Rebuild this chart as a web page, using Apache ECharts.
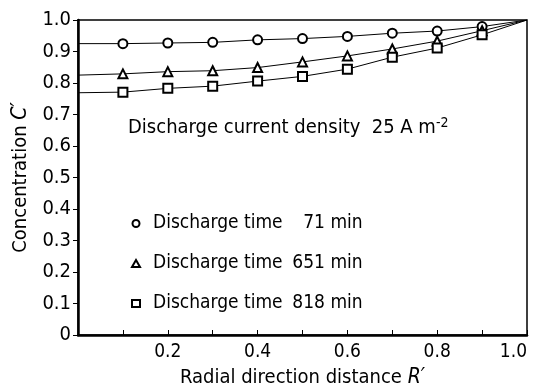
<!DOCTYPE html>
<html>
<head>
<meta charset="utf-8">
<script src="https://cdn.jsdelivr.net/npm/echarts@6/dist/echarts.min.js"></script>
<style>
  html, body { margin: 0; padding: 0; background: #fff; }
  #chart { width: 536px; height: 385px; }
</style>
</head>
<body>
<div id="chart"></div>
<script>
// radial distance R' and dimensionless concentration C'
const radius = [0, 0.1, 0.2, 0.3, 0.4, 0.5, 0.6, 0.7, 0.8, 0.9, 1.0];
const conc71 = [0.925, 0.925, 0.927, 0.929, 0.937, 0.941, 0.948, 0.958, 0.965, 0.979, 1.0];
const conc651 = [0.825, 0.829, 0.836, 0.839, 0.849, 0.867, 0.886, 0.908, 0.933, 0.966, 1.0];
const conc818 = [0.769, 0.771, 0.783, 0.790, 0.806, 0.821, 0.844, 0.882, 0.911, 0.953, 1.0];
const seriesNames = ['71 min', '651 min', '818 min'];
const seriesSymbols = ['emptyCircle', 'emptyTriangle', 'emptyRect'];

const FONT = '"DejaVu Sans Condensed", "DejaVu Sans", sans-serif';
const chart = echarts.init(document.getElementById('chart'));

// markers only on the inner points, not at R'=0 and R'=1
const markerSize = (val, params) =>
  (params.dataIndex === 0 || params.dataIndex === radius.length - 1) ? 0 : 9;

const makeSeries = (name, values, symbol) => ({
  name,
  type: 'line',
  data: radius.map((r, i) => [r, values[i]]),
  symbol,
  symbolSize: markerSize,
  showAllSymbol: true,
  lineStyle: { color: '#000', width: 1 },
  itemStyle: { color: '#000', borderColor: '#000', borderWidth: 1 },
  emphasis: { disabled: true },
});

chart.setOption({
  animation: false,
  textStyle: { fontFamily: FONT, color: '#000' },
  grid: {
    left: 78, right: 9, top: 20, bottom: 50,
    outerBoundsMode: 'none',
    containLabel: false,
    show: true, borderColor: '#000', borderWidth: 1.5,
  },
  legend: {
    orient: 'vertical',
    left: 126,
    top: 209,
    itemGap: 21,
    itemWidth: 8,
    itemHeight: 7,
    data: seriesNames.map((n, i) => ({ name: n, icon: seriesSymbols[i] })),
    lineStyle: { opacity: 0 },
    itemStyle: { borderWidth: 0.8 },
    formatter: (name) => '{a|Discharge time}{b|' + name + '}',
    textStyle: {
      fontFamily: FONT,
      color: '#000',
      rich: {
        a: { fontSize: 19, fontFamily: FONT, color: '#000', padding: [0, 0, 0, 8] },
        b: { fontSize: 19, fontFamily: FONT, color: '#000', width: 80, align: 'right' },
      },
    },
    selectedMode: false,
  },
  xAxis: {
    type: 'value',
    min: 0, max: 1, interval: 0.1,
    name: "Radial direction distance {i|R′}",
    nameLocation: 'middle',
    nameGap: 27,
    nameTextStyle: {
      fontSize: 20, fontFamily: FONT, color: '#000',
      rich: { i: { fontSize: 21, fontStyle: 'italic', fontFamily: FONT, color: '#000' } },
    },
    axisLine: { lineStyle: { color: '#000', width: 2.5 } },
    axisTick: { inside: true, length: 5, lineStyle: { color: '#000' } },
    splitLine: { show: false },
    axisLabel: {
      fontSize: 19, color: '#000', margin: 8,
      alignMaxLabel: 'right',
      formatter: (v) => {
        const t = Math.round(v * 10);
        return (t % 2 === 0 && t > 0) ? v.toFixed(1) : '';
      },
    },
  },
  yAxis: {
    type: 'value',
    min: 0, max: 1, interval: 0.1,
    name: 'Concentration {i|C′}',
    nameLocation: 'middle',
    nameGap: 46,
    nameTextStyle: {
      fontSize: 20, fontFamily: FONT, color: '#000',
      rich: { i: { fontSize: 21, fontStyle: 'italic', fontFamily: FONT, color: '#000' } },
    },
    axisLine: { show: true, lineStyle: { color: '#000', width: 2.5 } },
    axisTick: { show: true, length: 5, lineStyle: { color: '#000' } },
    splitLine: { show: false },
    axisLabel: {
      fontSize: 20, color: '#000', margin: 7,
      formatter: (v) => (v === 0 ? '0' : v.toFixed(1)),
    },
  },
  graphic: [{
    type: 'text',
    left: 128,
    top: 116,
    style: {
      text: '{a|Discharge current density  25 A m}{s|-2}',
      fill: '#000',
      rich: {
        a: { fontSize: 20, fontFamily: FONT, fill: '#000' },
        s: { fontSize: 14, fontFamily: FONT, fill: '#000', verticalAlign: 'top', padding: [0, 0, 10, 0] },
      },
    },
  }],
  series: [
    makeSeries(seriesNames[0], conc71, seriesSymbols[0]),
    makeSeries(seriesNames[1], conc651, seriesSymbols[1]),
    makeSeries(seriesNames[2], conc818, seriesSymbols[2]),
  ],
});
</script>
</body>
</html>
